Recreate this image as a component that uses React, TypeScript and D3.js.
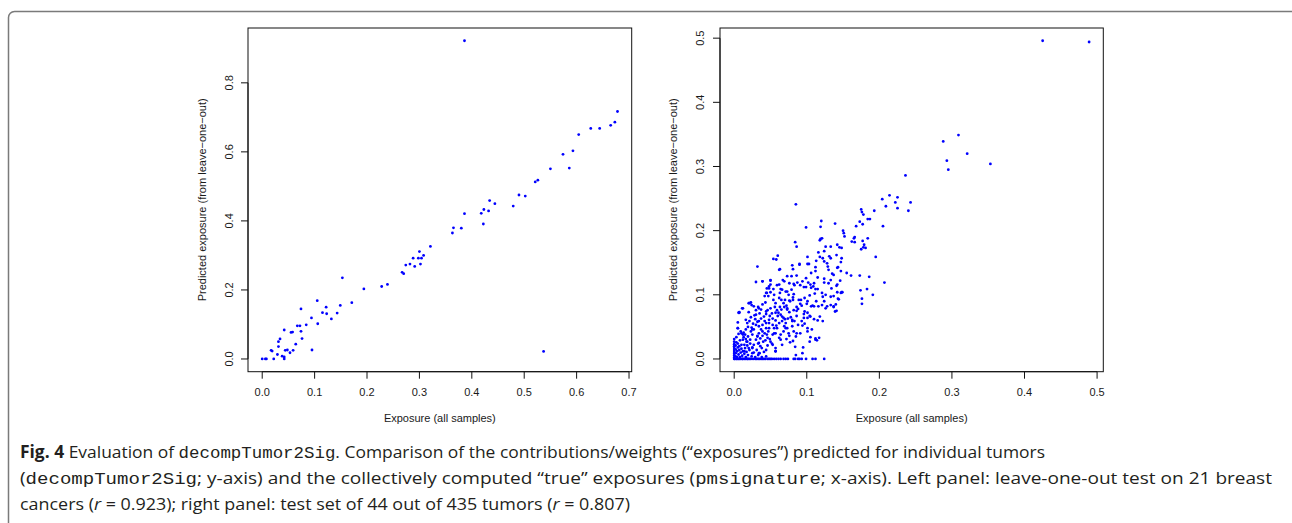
import React from "react";
import * as d3 from "d3";

// Left panel: leave-one-out exposures vs. all-sample exposures
const leftX = [0.386, 0.678, 0.673, 0.665, 0.644, 0.627, 0.604, 0.593, 0.574, 0.586, 0.55, 0.526, 0.521, 0.502, 0.49, 0.479, 0.444, 0.434, 0.432, 0.423, 0.418, 0.422, 0.386, 0.38, 0.365, 0.363, 0.321, 0.308, 0.3, 0.304, 0.298, 0.302, 0.288, 0.291, 0.282, 0.274, 0.27, 0.267, 0.239, 0.228, 0.194, 0.171, 0.153, 0.149, 0.143, 0.132, 0.122, 0.123, 0.115, 0.105, 0.106, 0.094, 0.084, 0.074, 0.072, 0.067, 0.074, 0.076, 0.064, 0.058, 0.055, 0.059, 0.053, 0.048, 0.044, 0.042, 0.034, 0.031, 0.031, 0.029, 0.038, 0.042, 0.042, 0.022, 0.019, 0.017, 0.008, 0.006, 0.0, 0.095, 0.537];
const leftY = [0.922, 0.717, 0.686, 0.677, 0.668, 0.668, 0.65, 0.603, 0.593, 0.553, 0.551, 0.518, 0.513, 0.472, 0.475, 0.443, 0.45, 0.459, 0.429, 0.433, 0.422, 0.391, 0.421, 0.379, 0.38, 0.365, 0.326, 0.3, 0.311, 0.292, 0.292, 0.275, 0.292, 0.268, 0.275, 0.272, 0.247, 0.251, 0.216, 0.21, 0.203, 0.163, 0.235, 0.155, 0.133, 0.116, 0.15, 0.131, 0.134, 0.169, 0.102, 0.119, 0.099, 0.145, 0.096, 0.096, 0.08, 0.059, 0.043, 0.078, 0.077, 0.025, 0.018, 0.026, 0.025, 0.084, 0.058, 0.05, 0.036, 0.013, 0.008, 0.006, 0.0, 0.0, 0.023, 0.025, 0.0, 0.0, 0.0, 0.026, 0.022];

// Right panel: test-set exposures [all samples, predicted]
const rightPoints: [number, number][] = [
  [0.425, 0.496], [0.489, 0.494], [0.309, 0.349], [0.288, 0.339], [0.321, 0.32], [0.293, 0.309], [0.353, 0.304], [0.295, 0.295],
  [0.236, 0.286], [0.214, 0.255], [0.204, 0.249], [0.225, 0.252], [0.243, 0.244], [0.222, 0.244], [0.209, 0.238], [0.225, 0.235],
  [0.24, 0.231], [0.193, 0.231], [0.175, 0.233], [0.176, 0.229], [0.178, 0.225], [0.184, 0.218], [0.187, 0.218], [0.173, 0.214],
  [0.177, 0.21], [0.168, 0.207], [0.205, 0.207], [0.085, 0.241], [0.12, 0.215], [0.119, 0.206], [0.099, 0.205], [0.139, 0.211],
  [0.15, 0.2], [0.151, 0.196], [0.152, 0.191], [0.165, 0.188], [0.162, 0.183], [0.166, 0.182], [0.184, 0.188], [0.177, 0.184],
  [0.179, 0.178], [0.178, 0.174], [0.175, 0.171], [0.181, 0.173], [0.119, 0.187], [0.121, 0.188], [0.118, 0.185], [0.084, 0.182],
  [0.086, 0.175], [0.126, 0.175], [0.142, 0.178], [0.145, 0.174], [0.148, 0.173], [0.124, 0.168], [0.116, 0.166], [0.133, 0.175],
  [0.131, 0.16], [0.101, 0.159], [0.06, 0.161], [0.054, 0.156], [0.058, 0.155], [0.195, 0.159], [0.118, 0.159], [0.122, 0.157],
  [0.148, 0.157], [0.032, 0.144], [0.063, 0.14], [0.081, 0.14], [0.09, 0.147], [0.101, 0.148], [0.08, 0.146], [0.113, 0.153],
  [0.124, 0.152], [0.128, 0.149], [0.129, 0.144], [0.142, 0.142], [0.112, 0.143], [0.13, 0.139], [0.155, 0.134], [0.161, 0.13],
  [0.173, 0.13], [0.186, 0.128], [0.135, 0.133], [0.106, 0.134], [0.115, 0.127], [0.124, 0.125], [0.133, 0.123], [0.079, 0.129],
  [0.067, 0.123], [0.099, 0.126], [0.102, 0.119], [0.087, 0.119], [0.083, 0.115], [0.091, 0.115], [0.05, 0.123], [0.039, 0.121],
  [0.03, 0.12], [0.059, 0.115], [0.048, 0.113], [0.045, 0.11], [0.064, 0.109], [0.076, 0.118], [0.11, 0.118], [0.109, 0.113],
  [0.106, 0.111], [0.112, 0.109], [0.096, 0.112], [0.124, 0.119], [0.13, 0.118], [0.141, 0.114], [0.134, 0.11], [0.147, 0.103],
  [0.148, 0.104], [0.174, 0.107], [0.183, 0.109], [0.191, 0.1], [0.207, 0.119], [0.176, 0.094], [0.176, 0.086], [0.143, 0.094],
  [0.137, 0.098], [0.126, 0.1], [0.122, 0.097], [0.124, 0.09], [0.121, 0.084], [0.128, 0.082], [0.133, 0.084], [0.137, 0.081],
  [0.139, 0.074], [0.116, 0.082], [0.111, 0.102], [0.104, 0.099], [0.106, 0.082], [0.108, 0.083], [0.113, 0.09], [0.097, 0.095],
  [0.092, 0.092], [0.1, 0.086], [0.091, 0.086], [0.086, 0.081], [0.081, 0.092], [0.081, 0.096], [0.082, 0.101], [0.076, 0.091],
  [0.07, 0.092], [0.072, 0.083], [0.069, 0.081], [0.073, 0.077], [0.076, 0.073], [0.082, 0.076], [0.088, 0.078], [0.097, 0.074],
  [0.086, 0.067], [0.074, 0.063], [0.08, 0.059], [0.07, 0.062], [0.064, 0.069], [0.059, 0.076], [0.056, 0.081], [0.05, 0.079],
  [0.046, 0.076], [0.044, 0.07], [0.049, 0.067], [0.053, 0.063], [0.057, 0.06], [0.053, 0.053], [0.059, 0.048], [0.068, 0.043],
  [0.076, 0.036], [0.085, 0.035], [0.081, 0.028], [0.094, 0.052], [0.097, 0.055], [0.101, 0.064], [0.104, 0.067], [0.11, 0.062],
  [0.115, 0.06], [0.122, 0.059], [0.118, 0.066], [0.114, 0.029], [0.117, 0.033], [0.112, 0.03], [0.105, 0.034], [0.104, 0.027],
  [0.095, 0.018], [0.094, 0.009], [0.085, 0.006], [0.084, 0.019], [0.064, 0.03], [0.057, 0.017], [0.057, 0.012], [0.05, 0.027],
  [0.049, 0.031], [0.04, 0.027], [0.038, 0.017], [0.035, 0.009], [0.03, 0.03], [0.025, 0.009], [0.027, 0.022], [0.034, 0.04],
  [0.037, 0.046], [0.034, 0.051], [0.03, 0.053], [0.032, 0.058], [0.037, 0.063], [0.041, 0.066], [0.042, 0.059], [0.039, 0.053],
  [0.044, 0.048], [0.047, 0.043], [0.042, 0.04], [0.039, 0.036], [0.045, 0.038], [0.032, 0.036], [0.027, 0.046], [0.025, 0.038],
  [0.023, 0.043], [0.019, 0.035], [0.022, 0.03], [0.017, 0.027], [0.014, 0.022], [0.012, 0.03], [0.01, 0.04], [0.015, 0.038],
  [0.019, 0.05], [0.021, 0.059], [0.023, 0.065], [0.02, 0.073], [0.012, 0.079], [0.007, 0.073], [0.005, 0.057], [0.005, 0.048],
  [0.02, 0.087], [0.023, 0.088], [0.027, 0.082], [0.03, 0.076], [0.033, 0.081], [0.037, 0.077], [0.039, 0.085], [0.043, 0.088],
  [0.042, 0.098], [0.045, 0.103], [0.047, 0.098], [0.05, 0.104], [0.054, 0.109], [0.05, 0.116], [0.054, 0.092], [0.057, 0.087],
  [0.062, 0.095], [0.063, 0.103], [0.066, 0.108], [0.068, 0.087], [0.073, 0.105], [0.079, 0.108], [0.075, 0.1], [0.063, 0.081],
  [0.06, 0.067], [0.066, 0.059], [0.069, 0.051], [0.073, 0.048], [0.08, 0.051], [0.088, 0.053], [0.086, 0.04], [0.091, 0.04],
  [0.075, 0.04], [0.064, 0.038], [0.057, 0.04], [0.053, 0.038], [0.048, 0.048], [0.055, 0.048], [0.101, 0.048], [0.107, 0.046],
  [0.101, 0.072], [0.093, 0.083], [0.096, 0.064], [0.083, 0.059], [0.078, 0.065], [0.099, 0.112], [0.006, 0.072], [0.011, 0.079],
  [0.028, 0.068], [0.035, 0.071], [0.026, 0.055], [0.029, 0.062], [0.044, 0.056], [0.048, 0.061], [0.052, 0.071], [0.061, 0.072],
  [0.065, 0.077], [0.058, 0.052], [0.062, 0.056], [0.071, 0.056], [0.016, 0.046], [0.018, 0.056], [0.024, 0.049], [0.036, 0.032],
  [0.043, 0.029], [0.046, 0.021], [0.052, 0.024], [0.066, 0.022], [0.072, 0.031], [0.077, 0.026], [0.033, 0.024], [0.02, 0.017],
  // middle band, 0.05 < predicted < 0.16
  [0.09, 0.148], [0.103, 0.148], [0.073, 0.129], [0.086, 0.13], [0.112, 0.137], [0.069, 0.121], [0.082, 0.117], [0.094, 0.121],
  [0.105, 0.116], [0.115, 0.109], [0.121, 0.103], [0.071, 0.105], [0.065, 0.092], [0.077, 0.09], [0.089, 0.092], [0.101, 0.09],
  [0.11, 0.082], [0.073, 0.079], [0.086, 0.075], [0.096, 0.07], [0.068, 0.064], [0.08, 0.061], [0.093, 0.059], [0.105, 0.066],
  [0.071, 0.048], [0.082, 0.043], [0.112, 0.032], [0.101, 0.043], [0.133, 0.157], [0.137, 0.131], [0.142, 0.116], [0.133, 0.097],
  [0.137, 0.082], [0.126, 0.079], [0.062, 0.139], [0.039, 0.121], [0.05, 0.122], [0.062, 0.116], [0.048, 0.11], [0.044, 0.103],
  [0.055, 0.1], [0.021, 0.087], [0.024, 0.084], [0.034, 0.079], [0.007, 0.072], [0.03, 0.069], [0.044, 0.074], [0.057, 0.072],
  [0.066, 0.066], [0.016, 0.061], [0.034, 0.059], [0.048, 0.056], [0.005, 0.048], [0.025, 0.046], [0.039, 0.043], [0.055, 0.04],
  [0.012, 0.038], [0.032, 0.035], [0.046, 0.033], [0.062, 0.033], [0.018, 0.027], [0.034, 0.025], [0.053, 0.022], [0.025, 0.017],
  [0.044, 0.014], [0.014, 0.012], [0.034, 0.009], [0.057, 0.012], [0.141, 0.162], [0.147, 0.151], [0.143, 0.143], [0.147, 0.137],
  [0.146, 0.122], [0.142, 0.104], [0.149, 0.104], [0.144, 0.093], [0.14, 0.085], [0.141, 0.075], [0.166, 0.19],
  // dense corner near the origin
  [0.0, 0.002], [0.0, 0.005], [0.0, 0.008], [0.0, 0.011], [0.0, 0.014], [0.0, 0.017], [0.0, 0.02], [0.0, 0.023],
  [0.0, 0.027], [0.0, 0.031], [0.002, 0.004], [0.002, 0.009], [0.002, 0.015], [0.002, 0.021], [0.003, 0.026], [0.004, 0.003],
  [0.004, 0.012], [0.005, 0.018], [0.005, 0.024], [0.006, 0.007], [0.007, 0.014], [0.007, 0.02], [0.008, 0.003], [0.008, 0.029],
  [0.009, 0.01], [0.01, 0.016], [0.01, 0.022], [0.011, 0.005], [0.012, 0.012], [0.013, 0.034], [0.014, 0.008], [0.015, 0.017],
  [0.016, 0.003], [0.017, 0.011], [0.018, 0.021], [0.019, 0.006], [0.021, 0.014], [0.022, 0.024], [0.024, 0.004], [0.025, 0.018],
  [0.027, 0.01], [0.029, 0.003], [0.031, 0.014], [0.033, 0.006], [0.036, 0.02], [0.038, 0.003], [0.041, 0.011], [0.044, 0.004],
  [0.003, 0.034], [0.006, 0.039], [0.009, 0.043], [0.013, 0.041], [0.016, 0.031],
  // zero predictions along the baseline
  [0.0, 0.0], [0.001, 0.0], [0.003, 0.0], [0.004, 0.0], [0.006, 0.0], [0.007, 0.0], [0.009, 0.0], [0.011, 0.0],
  [0.012, 0.0], [0.014, 0.0], [0.016, 0.0], [0.018, 0.0], [0.019, 0.0], [0.021, 0.0], [0.023, 0.0], [0.026, 0.0],
  [0.029, 0.0], [0.031, 0.0], [0.033, 0.0], [0.035, 0.0], [0.037, 0.0], [0.039, 0.0], [0.041, 0.0], [0.043, 0.0],
  [0.046, 0.0], [0.048, 0.0], [0.05, 0.0], [0.052, 0.0], [0.055, 0.0], [0.058, 0.0], [0.061, 0.0], [0.064, 0.0],
  [0.068, 0.0], [0.071, 0.0], [0.074, 0.0], [0.082, 0.0], [0.084, 0.0], [0.088, 0.0], [0.09, 0.0], [0.093, 0.0],
  [0.099, 0.0], [0.108, 0.0], [0.112, 0.0], [0.124, 0.0],
];

const leftXTicks = [0, 0.1, 0.2, 0.3, 0.4, 0.5, 0.6, 0.7];
const leftYTicks = [0, 0.2, 0.4, 0.6, 0.8];
const rightXTicks = [0, 0.1, 0.2, 0.3, 0.4, 0.5];
const rightYTicks = [0, 0.1, 0.2, 0.3, 0.4, 0.5];

const xTitle = "Exposure (all samples)";
const yTitle = "Predicted exposure (from leave\u2212one\u2212out)";

const AXIS_FONT = "'Liberation Sans', Arial, Helvetica, sans-serif";
const CAPTION_FONT = "'Open Sans', 'Noto Sans', sans-serif";
const MONO_FONT = "'Liberation Mono', 'Courier New', monospace";
const DOT = "#0000ff";

// R-style axis range: data extent padded by 4% on each side
function padded(values: number[]): [number, number] {
  const [lo, hi] = d3.extent(values) as [number, number];
  const pad = (hi - lo) * 0.04;
  return [lo - pad, hi + pad];
}

type PanelProps = {
  left: number;
  right: number;
  top: number;
  bottom: number;
  xs: number[];
  ys: number[];
  xTicks: number[];
  yTicks: number[];
  yLabelX: number;
  yTitleX: number;
};

function Panel({ left, right, top, bottom, xs, ys, xTicks, yTicks, yLabelX, yTitleX }: PanelProps) {
  const x = d3.scaleLinear().domain(padded(xs)).range([left, right]);
  const y = d3.scaleLinear().domain(padded(ys)).range([bottom, top]);
  const fmt = d3.format(".1f");
  const axisY = bottom;
  const tick = 7;
  return (
    <g>
      <rect x={left} y={top} width={right - left} height={bottom - top} fill="none" stroke="#111" strokeWidth={1} />
      {/* x axis */}
      <line x1={x(xTicks[0])} x2={x(xTicks[xTicks.length - 1])} y1={axisY} y2={axisY} stroke="#111" />
      {xTicks.map((t) => (
        <g key={"xt" + t}>
          <line x1={x(t)} x2={x(t)} y1={axisY} y2={axisY + tick} stroke="#111" />
          <text x={x(t)} y={395.5} textAnchor="middle" fontSize={11} fontFamily={AXIS_FONT} fill="#1a1a1a">
            {fmt(t)}
          </text>
        </g>
      ))}
      {/* y axis */}
      <line x1={left} x2={left} y1={y(yTicks[0])} y2={y(yTicks[yTicks.length - 1])} stroke="#111" />
      {yTicks.map((t) => (
        <g key={"yt" + t}>
          <line x1={left} x2={left - tick} y1={y(t)} y2={y(t)} stroke="#111" />
          <text
            transform={`translate(${yLabelX},${y(t)}) rotate(-90)`}
            textAnchor="middle"
            fontSize={11}
            fontFamily={AXIS_FONT}
            fill="#1a1a1a"
          >
            {fmt(t)}
          </text>
        </g>
      ))}
      <text x={(left + right) / 2} y={422} textAnchor="middle" fontSize={11} fontFamily={AXIS_FONT} fill="#1a1a1a">
        {xTitle}
      </text>
      <text
        transform={`translate(${yTitleX},${(top + bottom) / 2}) rotate(-90)`}
        textAnchor="middle"
        fontSize={11}
        fontFamily={AXIS_FONT}
        fill="#1a1a1a"
      >
        {yTitle}
      </text>
      {xs.map((v, i) => (
        <circle key={i} cx={x(v)} cy={y(ys[i])} r={1.4} fill={DOT} />
      ))}
    </g>
  );
}

export default function App() {
  const rx = rightPoints.map((p) => p[0]);
  const ry = rightPoints.map((p) => p[1]);
  const mono = { fontFamily: MONO_FONT };
  return (
    <svg
      width={1292}
      height={523}
      viewBox="0 0 1292 523"
      style={{ position: "absolute", left: 0, top: 0, display: "block", background: "#fff" }}
    >
      <rect x={8.5} y={11.5} width={1300} height={530} rx={6} fill="none" stroke="#7a7a7a" strokeWidth={1.5} />
      <Panel
        left={248}
        right={631.7}
        top={28}
        bottom={371.7}
        xs={leftX}
        ys={leftY}
        xTicks={leftXTicks}
        yTicks={leftYTicks}
        yLabelX={233}
        yTitleX={205.5}
      />
      <Panel
        left={720}
        right={1103.3}
        top={28}
        bottom={371.7}
        xs={rx}
        ys={ry}
        xTicks={rightXTicks}
        yTicks={rightYTicks}
        yLabelX={704}
        yTitleX={677}
      />
      <g fontFamily={CAPTION_FONT} fontSize={17} fill="#231f20">
        <text x={20} y={458} textLength={1025} lengthAdjust="spacingAndGlyphs">
          <tspan fontWeight="bold">Fig. 4</tspan> Evaluation of <tspan {...mono}>decompTumor2Sig</tspan>. Comparison of
          the contributions/weights (“exposures”) predicted for individual tumors
        </text>
        <text x={20} y={484} textLength={1252} lengthAdjust="spacingAndGlyphs">
          (<tspan {...mono}>decompTumor2Sig</tspan>; y-axis) and the collectively computed “true” exposures (
          <tspan {...mono}>pmsignature</tspan>; x-axis). Left panel: leave-one-out test on 21 breast
        </text>
        <text x={20} y={510} textLength={610} lengthAdjust="spacingAndGlyphs">
          cancers (<tspan fontStyle="italic">r</tspan> = 0.923); right panel: test set of 44 out of 435 tumors (
          <tspan fontStyle="italic">r</tspan> = 0.807)
        </text>
      </g>
    </svg>
  );
}
